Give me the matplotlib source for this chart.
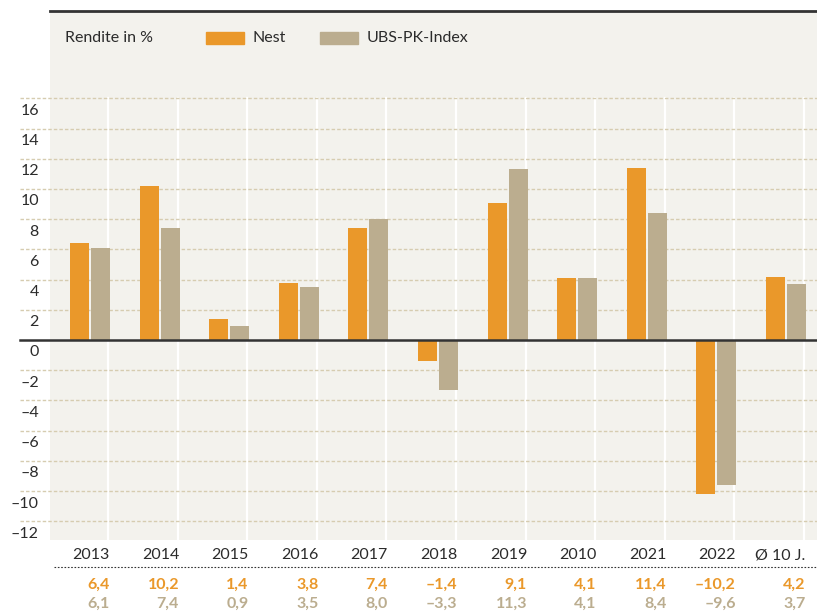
import matplotlib
matplotlib.use("Agg")
import matplotlib.pyplot as plt
from matplotlib.patches import Rectangle
import numpy as np

plt.rcParams['font.family'] = ['Lato', 'DejaVu Sans']

categories = ["2013", "2014", "2015", "2016", "2017", "2018", "2019", "2010", "2021", "2022", "Ø 10 J."]
nest = [6.4, 10.2, 1.4, 3.8, 7.4, -1.4, 9.1, 4.1, 11.4, -10.2, 4.2]
ubs = [6.1, 7.4, 0.9, 3.5, 8.0, -3.3, 11.3, 4.1, 8.4, -9.6, 3.7]
yticks = [16, 14, 12, 10, 8, 6, 4, 2, 0, -2, -4, -6, -8, -10, -12]
series_names = ["Nest", "UBS-PK-Index"]
unit_label = "Rendite in %"

ORANGE = "#EA982A"
TAN = "#BBAD8F"
BG = "#F3F2ED"
GRID = "#D6CCB0"
DARK = "#2b2b2b"

W, H = 817, 612
fig = plt.figure(figsize=(W / 100, H / 100), dpi=100)

# pixel geometry
x_left_px, x_right_px = 50, 817
y_top_px, y_bot_px = 11, 540
ax = fig.add_axes([x_left_px / W, 1 - y_bot_px / H, (x_right_px - x_left_px) / W, (y_bot_px - y_top_px) / H])
ax.set_facecolor(BG)

step_px = 69.6
c0_px = 90
px_per_unit = 15.1
zero_px = 340
xl = (x_left_px - c0_px) / step_px
xr = (x_right_px - c0_px) / step_px
yb = -(y_bot_px - zero_px) / px_per_unit
yt = (zero_px - y_top_px) / px_per_unit
ax.set_xlim(xl, xr)
ax.set_ylim(yb, yt)
for s in ax.spines.values():
    s.set_visible(False)
ax.set_xticks([])
ax.set_yticks([])

n = len(categories)
x = np.arange(n)
bw = 19 / step_px
off = 10.5 / step_px

# white vertical separators
for i in range(n):
    ax.plot([i + 18 / step_px] * 2, [yb, 16], color="white", lw=1.6, zorder=1)

# dotted gridlines extending left beyond the axes
gx0 = (20 - c0_px) / step_px
for t in yticks:
    if t == 0:
        continue
    ax.plot([gx0, xr], [t, t], color=GRID, lw=1.0, ls=(0, (2.5, 1.5)), zorder=2, clip_on=False)

ax.bar(x - off, nest, width=bw, color=ORANGE, zorder=3)
ax.bar(x + off, ubs, width=bw, color=TAN, zorder=3)

# zero line
ax.plot([gx0, xr], [0, 0], color="#333333", lw=1.8, zorder=4, clip_on=False)
# top line
ax.plot([xl, xr], [yt, yt], color="#333333", lw=2.0, zorder=4, clip_on=False)

def fmt(v):
    s = ("%.1f" % abs(v)).replace(".", ",") if isinstance(v, float) else str(abs(v))
    return ("\u2013" + s) if v < 0 else s

# y tick labels (placed below gridlines)
for t in yticks:
    y_px = zero_px - t * px_per_unit + 12.5
    fig.text(39 / W, 1 - y_px / H, fmt(t), ha="right", va="center", fontsize=11.5, color=DARK)

# legend
ly = 1 - 38 / H
fig.text(65 / W, ly, unit_label, ha="left", va="center", fontsize=11.5, color=DARK)
fig.patches.append(Rectangle((206 / W, 1 - 44 / H), 38 / W, 12 / H, transform=fig.transFigure, color=ORANGE))
fig.text(253 / W, ly, series_names[0], ha="left", va="center", fontsize=11.5, color=DARK)
fig.patches.append(Rectangle((320 / W, 1 - 44 / H), 38 / W, 12 / H, transform=fig.transFigure, color=TAN))
fig.text(367 / W, ly, series_names[1], ha="left", va="center", fontsize=11.5, color=DARK)

# table below
for i in range(n):
    xr_px = c0_px + i * step_px + 19.5
    fig.text(xr_px / W, 1 - 555 / H, categories[i], ha="right", va="center", fontsize=11.5, color=DARK)
    fig.text(xr_px / W, 1 - 585 / H, fmt(nest[i]), ha="right", va="center", fontsize=11.5,
             color=ORANGE, fontweight="bold")
    fig.text(xr_px / W, 1 - 604 / H, fmt(ubs[i]), ha="right", va="center", fontsize=11.5,
             color=TAN, fontweight="bold")

fig.add_artist(plt.Line2D([54 / W, 1.0], [1 - 567 / H] * 2, transform=fig.transFigure,
                          color="#333333", lw=0.8, ls=(0, (1.5, 1.5))))

fig.savefig("out.png", dpi=100, facecolor="white")
